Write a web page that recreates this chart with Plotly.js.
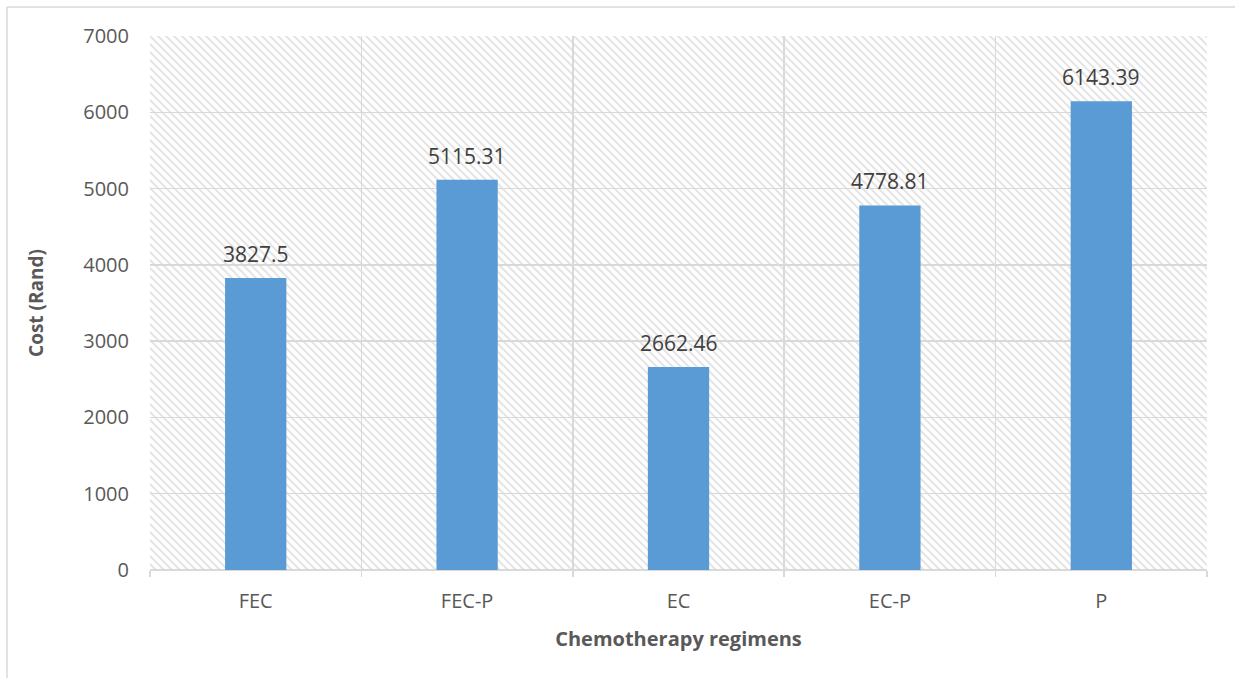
<!DOCTYPE html>
<html>
<head>
<meta charset="utf-8">
<script src="https://cdn.plot.ly/plotly-3.0.1.min.js"></script>
<style>html,body{margin:0;padding:0;background:#fff;}#chart{width:1235px;height:678px;}</style>
</head>
<body>
<div id="chart"></div>
<script>
const categories = ["FEC", "FEC-P", "EC", "EC-P", "P"];
const costs = [3827.5, 5115.31, 2662.46, 4778.81, 6143.39];
const costLabels = ["3827.5", "5115.31", "2662.46", "4778.81", "6143.39"];
const yTicks = [0, 1000, 2000, 3000, 4000, 5000, 6000, 7000];

const W = 1235, H = 678;
const margin = {l: 150, r: 28, t: 36, b: 108};
const pw = W - margin.l - margin.r, ph = H - margin.t - margin.b;
const FONT = "Open Sans, Noto Sans, sans-serif";

const svg = '<svg xmlns="http://www.w3.org/2000/svg" width="' + pw + '" height="' + ph + '">' +
  '<defs><pattern id="h" width="8" height="8" patternUnits="userSpaceOnUse">' +
  '<rect width="8" height="8" fill="#ffffff"/>' +
  '<path d="M-1,-1 L9,9 M-1,7 L1,9 M7,-1 L9,1" stroke="#e5e5e5" stroke-width="2"/>' +
  '</pattern></defs><rect width="' + pw + '" height="' + ph + '" fill="url(#h)"/></svg>';
const hatch = "data:image/svg+xml;utf8," + encodeURIComponent(svg);

const px2x = p => (p - margin.l) / pw;
const py2y = p => (H - margin.b - p) / ph;

const trace = {
  type: "bar",
  x: categories,
  y: costs,
  width: 0.29,
  marker: {color: "#5b9bd5"},
  hoverinfo: "x+y"
};

const labelAnnotations = categories.map((c, i) => ({
  x: c, y: costs[i], xref: "x", yref: "y",
  text: costLabels[i], showarrow: false,
  yanchor: "bottom", yshift: 8,
  font: {family: FONT, size: 21, color: "#404040"}
}));

const layout = {
  width: W, height: H,
  margin: margin,
  paper_bgcolor: "#ffffff",
  plot_bgcolor: "rgba(0,0,0,0)",
  showlegend: false,
  font: {family: FONT, color: "#595959"},
  xaxis: {
    type: "category",
    tickson: "boundaries",
    showgrid: true,
    gridcolor: "#d9d9d9",
    gridwidth: 1.5,
    ticks: "outside",
    ticklen: 6,
    tickcolor: "#d9d9d9",
    tickwidth: 1.5,
    ticklabelstandoff: 17,
    showline: false,
    zeroline: false,
    tickfont: {size: 20, color: "#595959"},
    title: {text: "Chemotherapy regimens", font: {size: 20, color: "#595959", weight: "bold"}, standoff: 18}
  },
  yaxis: {
    range: [0, 7000],
    tickvals: yTicks,
    ticktext: yTicks.map(String),
    showgrid: true,
    gridcolor: "#d9d9d9",
    gridwidth: 1.5,
    zeroline: true,
    zerolinecolor: "#d9d9d9",
    zerolinewidth: 1.5,
    showline: false,
    ticks: "",
    ticklabelstandoff: 20,
    tickfont: {size: 20, color: "#595959"},
    title: {text: "Cost (Rand)", font: {size: 19, color: "#595959", weight: "bold"}, standoff: 34}
  },
  annotations: labelAnnotations,
  images: [{
    source: hatch,
    xref: "paper", yref: "paper",
    x: 0, y: 1, sizex: 1, sizey: 1,
    xanchor: "left", yanchor: "top",
    sizing: "stretch",
    layer: "below"
  }],
  shapes: [
    {type: "line", xref: "paper", yref: "paper", x0: px2x(7), x1: px2x(W + 5), y0: py2y(7), y1: py2y(7), line: {color: "#d9d9d9", width: 1.5}},
    {type: "line", xref: "paper", yref: "paper", x0: px2x(7), x1: px2x(7), y0: py2y(7), y1: py2y(H + 5), line: {color: "#d9d9d9", width: 1.5}}
  ]
};

Plotly.newPlot("chart", [trace], layout, {displayModeBar: false, staticPlot: true});
</script>
</body>
</html>
